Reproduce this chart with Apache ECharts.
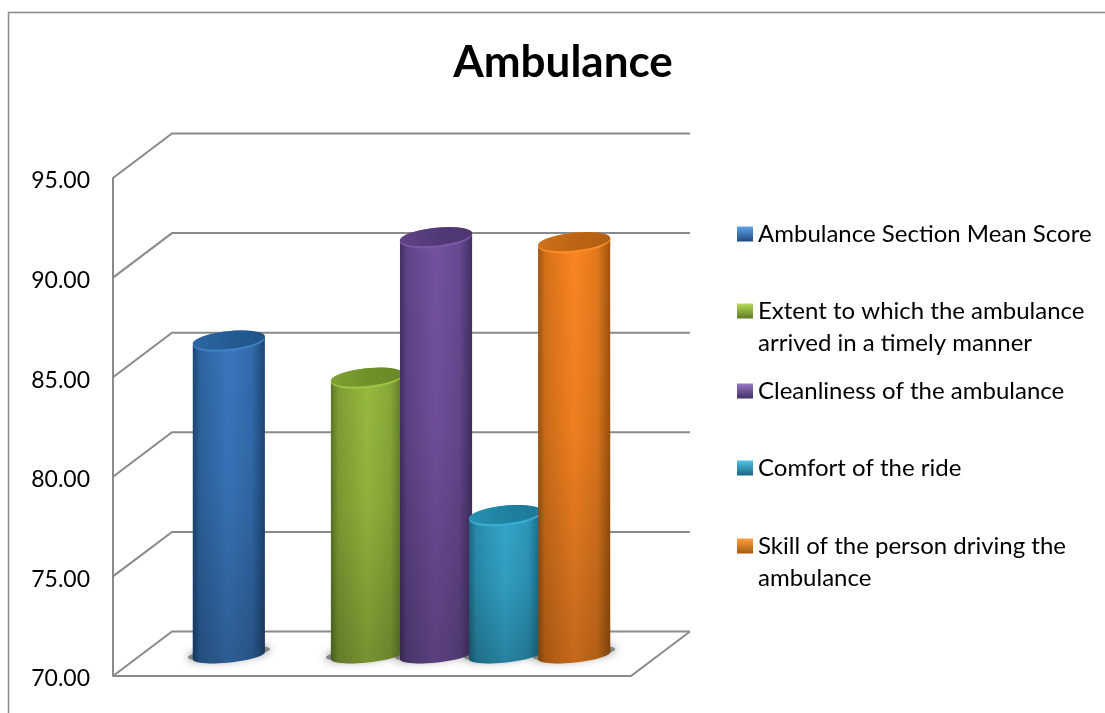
<!DOCTYPE html>
<html>
<head>
<meta charset="utf-8">
<style>html,body{margin:0;padding:0;background:#fff}#chart{width:1105px;height:713px}</style>
<script src="https://cdn.jsdelivr.net/npm/echarts@6/dist/echarts.min.js"></script>
</head>
<body>
<div id="chart"></div>
<script>
var titleText = 'Ambulance';
var seriesNames = [
  'Ambulance Section Mean Score',
  'Extent to which the ambulance\narrived in a timely manner',
  'Cleanliness of the ambulance',
  'Comfort of the ride',
  'Skill of the person driving the\nambulance'
];
var seriesValues = [85.74, 83.88, 90.93, 76.98, 90.68];
var slotIndex = [0, 2, 3, 4, 5];
var yTicks = [70, 75, 80, 85, 90, 95];

var palette = [
  {mid:'#3a76bd', edge:'#1d4675', top:'#235a92', rim:'#3f7fc6', icon:['#5fa3e8','#1f4a7d']},
  {mid:'#96ba3e', edge:'#5a7525', top:'#6f9029', rim:'#9cc244', icon:['#b5dc55','#5f7b28']},
  {mid:'#72529f', edge:'#432f62', top:'#513976', rim:'#7858a8', icon:['#9878c8','#432f62']},
  {mid:'#33a6ca', edge:'#1a6680', top:'#1e819f', rim:'#38aed2', icon:['#50c4e6','#1a6680']},
  {mid:'#fb8522', edge:'#9c540f', top:'#bb6413', rim:'#f98a28', icon:['#ffa040','#a45a10']}
];
var legendTops = [218, 263, 375, 452, 498];
var depthX = 59, depthY = -44.5, TILT = -6 * Math.PI / 180;

function ellipsePts(cx, cy, rx, ry, from, to) {
  var pts = [], n = 48;
  for (var i = 0; i <= n; i++) {
    var t = from + (to - from) * i / n;
    var x = rx * Math.cos(t), y = ry * Math.sin(t);
    pts.push([cx + x * Math.cos(TILT) - y * Math.sin(TILT), cy + x * Math.sin(TILT) + y * Math.cos(TILT)]);
  }
  return pts;
}
function mix(a, b, k) {
  var p = function (c, i) { return parseInt(c.substr(1 + i * 2, 2), 16); };
  var out = '#';
  for (var i = 0; i < 3; i++) {
    var v = Math.round(p(a, i) * (1 - k) + p(b, i) * k).toString(16);
    out += v.length < 2 ? '0' + v : v;
  }
  return out;
}

function renderShadow(params, api) {
  var base = api.coord([api.value(0), 70]);
  var rx = api.size([1, 0])[0] * 1.05 / 2;
  return {type: 'polygon',
    shape: {points: ellipsePts(base[0] + depthX / 2, base[1] + depthY / 2 - 0.5, rx + 5, 6, 0, 2 * Math.PI)},
    style: {fill: 'rgba(110,110,110,0.8)', shadowBlur: 10, shadowColor: 'rgba(90,90,90,1)'}};
}

function renderCylinder(idx) {
  return function (params, api) {
    var c = palette[idx];
    var slot = api.value(0), val = api.value(1);
    var base = api.coord([slot, 70]), top = api.coord([slot, val]);
    var ox = depthX / 2, oy = depthY / 2 + 1;
    var cx = base[0] + ox, by = base[1] + oy + 0.75, ty = top[1] + oy;
    var rx = api.size([1, 0])[0] * 1.05 / 2, ry = 10, ryBase = 7;
    var bodyPts = ellipsePts(cx, ty, rx, ry, Math.PI, Math.PI).concat(
      ellipsePts(cx, ty, rx, ry, 0, 0),
      ellipsePts(cx, by, rx, ryBase, 0, Math.PI));
    var G = echarts.graphic.LinearGradient;
    return {
      type: 'group',
      children: [
        {type: 'polygon', shape: {points: bodyPts},
          style: {fill: new G(0, 0, 1, 0, [
            {offset: 0, color: c.edge},
            {offset: 0.1, color: mix(c.edge, c.mid, 0.6)},
            {offset: 0.5, color: c.mid},
            {offset: 0.82, color: mix(c.edge, c.mid, 0.75)},
            {offset: 1, color: c.edge}
          ])}},
        {type: 'polygon', shape: {points: bodyPts},
          style: {fill: new G(0, 0, 0, 1, [
            {offset: 0, color: 'rgba(0,0,0,0)'},
            {offset: 0.45, color: 'rgba(0,0,0,0.05)'},
            {offset: 1, color: 'rgba(0,0,0,0.22)'}
          ])}},
        {type: 'polygon', shape: {points: ellipsePts(cx, ty, rx, ry, 0, 2 * Math.PI)},
          style: {fill: c.rim}},
        {type: 'polygon', shape: {points: ellipsePts(cx, ty - 1.2, rx, ry - 1.2, 0, 2 * Math.PI)},
          style: {fill: new G(0, 0, 1, 0, [
            {offset: 0, color: mix(c.top, c.rim, 0.35)},
            {offset: 0.55, color: c.top},
            {offset: 1, color: mix(c.top, c.edge, 0.3)}
          ])}}
      ]
    };
  };
}

function renderWalls(params, api) {
  var v = api.value(0);
  var xMin = -1.25, xMax = 6.25;
  var a = api.coord([xMin, v]), b = api.coord([xMax, v]);
  var lineStyle = {stroke: '#8a8a8a', lineWidth: 2, fill: null};
  var children = [{type: 'polyline',
    shape: {points: [a, [a[0] + depthX, a[1] + depthY], [b[0] + depthX, b[1] + depthY]]},
    style: lineStyle}];
  if (v === yTicks[0]) {
    children.push({type: 'polyline',
      shape: {points: [a, b, [b[0] + depthX, b[1] + depthY]]},
      style: lineStyle});
  }
  return {type: 'group', children: children};
}

var series = [{
  type: 'custom', name: 'walls', silent: true,
  renderItem: renderWalls,
  encode: {y: 0},
  data: yTicks.map(function (t) { return [t]; })
}, {
  type: 'custom', name: 'shadows', silent: true,
  renderItem: renderShadow,
  encode: {x: 0},
  data: slotIndex.map(function (s) { return [s]; })
}];
seriesNames.forEach(function (n, i) {
  series.push({
    type: 'custom', name: n, renderItem: renderCylinder(i),
    encode: {x: 0, y: 1},
    data: [[slotIndex[i], seriesValues[i]]]
  });
});

var legends = seriesNames.map(function (n, i) {
  return {
    data: [n], left: 737, top: legendTops[i], padding: 0, orient: 'vertical',
    icon: 'rect', itemWidth: 16, itemHeight: 15, selectedMode: false,
    formatter: function (name) { return name.indexOf('\n') >= 0 ? '\n' + name : name; },
    itemStyle: {borderWidth: 0, color: new echarts.graphic.LinearGradient(0, 0, 0, 1, [
      {offset: 0, color: palette[i].icon[0]},
      {offset: 1, color: palette[i].icon[1]}
    ])},
    textStyle: {fontFamily: 'Lato', fontSize: 24, lineHeight: 32, color: '#000'}
  };
});

var chart = echarts.init(document.getElementById('chart'), null, {renderer: 'canvas'});
chart.setOption({
  animation: false,
  backgroundColor: '#fff',
  title: {text: titleText, left: 558, top: 36, textAlign: 'center',
    textStyle: {fontFamily: 'Lato', fontWeight: 'bold', fontSize: 44, color: '#000'}},
  legend: legends,
  grid: {left: 113, top: 178, width: 518, height: 498},
  xAxis: {type: 'value', min: -1.25, max: 6.25, show: false},
  yAxis: {type: 'value', min: 70, max: 95, interval: 5,
    axisLine: {show: true, onZero: false, lineStyle: {color: '#8a8a8a', width: 2}},
    axisTick: {show: false}, splitLine: {show: false},
    axisLabel: {margin: 23, color: '#000', fontFamily: 'Lato', fontSize: 23, padding: [0, 0, 0, 0], lineHeight: 23,
      formatter: function (v) { return '{a|' + v.toFixed(2) + '}'; },
      rich: {a: {fontFamily: 'Lato', fontSize: 23, color: '#000', padding: [6, 0, 0, 0]}}}},
  graphic: [{type: 'polyline', silent: true,
    shape: {points: [[8.5, 713], [8.5, 12.5], [1105, 12.5]]},
    style: {stroke: '#8a8a8a', lineWidth: 1.5, fill: null}}],
  series: series
});
</script>
</body>
</html>
